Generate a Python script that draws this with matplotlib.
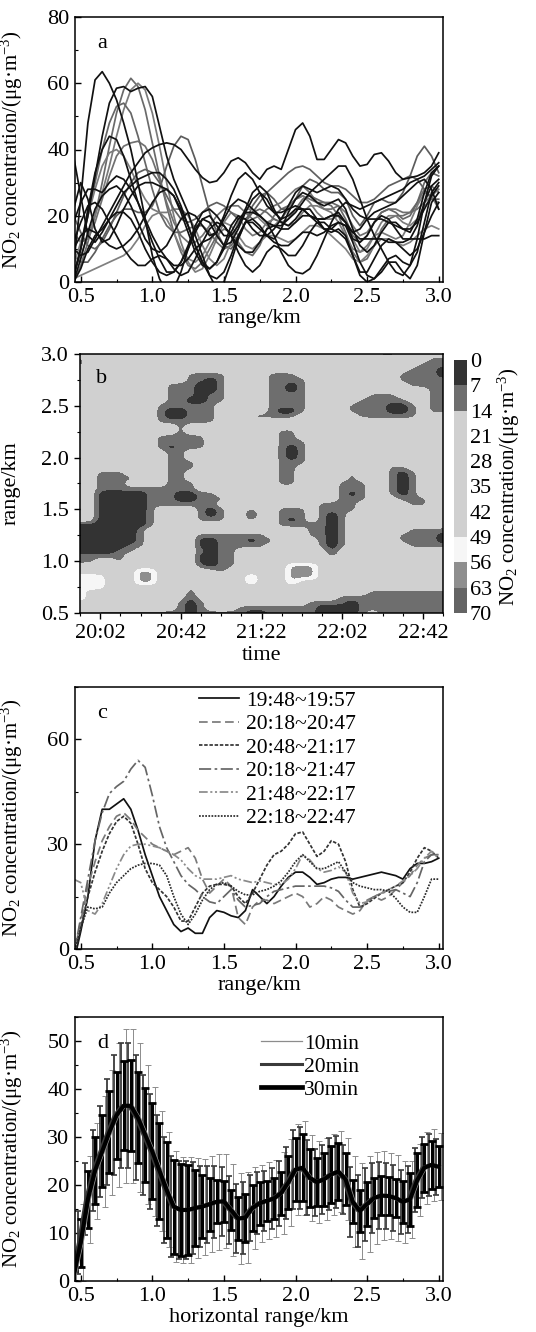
import numpy as np
import matplotlib

matplotlib.use("Agg")
import matplotlib.pyplot as plt
from matplotlib.colors import BoundaryNorm, ListedColormap
from matplotlib.lines import Line2D
from matplotlib.ticker import MultipleLocator
from matplotlib.transforms import offset_copy

plt.rcParams["font.family"] = ["Liberation Serif", "DejaVu Serif"]
plt.rcParams["mathtext.fontset"] = "custom"
plt.rcParams["mathtext.rm"] = "Liberation Serif"
plt.rcParams["mathtext.it"] = "Liberation Serif:italic"
plt.rcParams["mathtext.bf"] = "Liberation Serif:bold"
plt.rcParams["font.size"] = 16
plt.rcParams["axes.linewidth"] = 1.1

NO2_LABEL = "NO$_2$ concentration/(μg·m$^{-3}$)"

# sample positions along the lidar path, km (0.45 ... 3.00)
RANGE_KM = np.round(np.arange(0.45, 3.0001, 0.05), 2)

# ---- panel a: single profiles ----
A_K1 = [5, 25, 48, 61, 63.5, 60, 55, 48, 40, 30, 19, 8, 1, -3, -2, 3, 10, 16, 19, 18,
        14, 11, 12, 16, 21, 25, 27, 25, 21, 19, 20, 22, 22, 20, 19, 19, 20, 21, 18, 13,
        12, 14, 18, 20, 19, 16, 13, 13, 17, 24, 29, 31]
A_K2 = [2, 10, 20, 32, 44, 54, 58.5, 59, 57.5, 58.5, 59, 56, 47, 38, 31, 26, 21, 14, 8, 2,
        -2, 0, 6, 13, 18, 19, 17, 14, 13, 16, 21, 25, 27, 26, 24, 23, 24, 25, 22, 16,
        11, 9, 11, 15, 18, 18, 16, 15, 19, 27, 33, 35]
A_K3 = [10, 8, 9, 13, 17, 21, 25, 29, 33, 36, 39, 40.5, 41.5, 42, 41.5, 40, 37, 34, 31.5, 30,
        30.5, 33, 36.5, 37.5, 36, 33, 31, 34, 35, 34, 40, 46, 48, 44, 37, 37, 40, 43, 42, 38,
        35, 35.5, 38.5, 39, 36.5, 33, 31, 31.5, 32, 33, 35, 39]
A_K4 = [1, 10, 22, 33, 40, 44, 43, 38, 31, 24, 18, 12, 7, 3, 3, 6, 11, 17, 21, 22,
        20, 17, 14, 11, 9, 9, 12, 16, 17, 16, 16, 18, 20, 20, 18, 16, 15, 16, 14, 8,
        2, 0, 1, 4, 7, 8, 6, 5, 9, 18, 27, 30]
A_K5 = [18, 24, 28, 28, 27, 30, 32, 31, 28, 24, 19, 14, 10, 7, 5, 5, 7, 10, 12, 13,
        15, 20, 26, 31, 33, 31, 27, 23, 21, 21, 22, 23, 22, 20, 19, 19, 20, 20, 18, 15,
        13, 13, 13, 13, 12, 12, 12, 13, 13, 13, 14, 14]
A_K6 = [0, 4, 10, 14, 16, 19, 23, 27, 29, 31, 32, 33, 33, 31, 28, 23, 17, 11, 6, 4,
        6, 11, 17, 20, 19, 16, 14, 14, 16, 19, 23, 27, 29, 28, 27, 28, 29, 28, 25, 22,
        20, 19, 19, 19, 18, 17, 16, 16, 18, 22, 26, 29]
A_K7 = [38, 26, 14, 12, 15, 19, 21, 21, 19, 15, 10, 6, 3, 2, 3, 6, 10, 15, 19, 20,
        17, 14, 14, 17, 22, 27, 29, 27, 22, 18, 17, 19, 22, 22, 19, 16, 16, 18, 17, 12,
        6, 2, 1, 3, 6, 6, 3, 1, 5, 15, 24, 27]
A_K8 = [22, 30, 25, 16, 12, 13, 17, 22, 26, 29, 30, 30, 29, 28, 26, 22, 17, 11, 6, 2,
        1, 3, 8, 14, 18, 18, 16, 14, 12, 11, 11, 13, 15, 15, 14, 15, 17, 18, 17, 15,
        16, 19, 21, 22, 23, 24, 26, 28, 30, 31, 28, 22]
A_K9 = [12, 18, 23, 24, 22, 18, 14, 10, 7, 5, 5, 7, 8, 7, 4, 2, 3, 7, 12, 16,
        18, 17, 14, 9, 5, 3, 5, 9, 11, 10, 8, 8, 11, 15, 18, 18, 16, 15, 13, 8,
        3, 3, 7, 11, 13, 12, 10, 8, 10, 15, 20, 24]
A_K10 = [0, 7, 15, 22, 26, 28, 29, 27, 23, 18, 13, 10, 9, 11, 15, 19, 21, 20, 17, 14,
         15, 19, 23, 25, 24, 22, 20, 18, 14, 9, 5, 3, 2.5, 4, 8, 13, 18, 22, 24, 23,
         22, 23, 24, 25, 26, 27, 28, 30, 31, 32, 34, 36]
A_K11 = [10, 14, 16, 15, 13, 11, 10, 11, 13, 16, 20, 24, 27, 28, 26, 21, 15, 9, 5, 4,
         6, 10, 15, 19, 21, 21, 20, 18, 17, 17, 19, 21, 24, 27, 29, 31, 33, 35, 35, 31,
         25, 19, 14, 10, 6, 3, 2, 5, 13, 24, 32, 35]
A_G1 = [0, 5, 12, 20, 30, 41, 51, 58, 61.5, 59, 52, 42, 32, 23, 15, 9, 5, 4, 6, 10,
        14, 16, 15, 12, 9, 8, 11, 16, 20, 22, 23, 25, 26, 25, 24, 24, 23, 20, 15, 9,
        6, 7, 11, 16, 19, 20, 20, 21, 24, 28, 29, 27]
A_G2 = [3, 8, 14, 20, 27, 35, 44, 52, 58, 60, 58, 51, 41, 30, 20, 12, 6, 3, 4, 8,
        13, 18, 21, 20, 16, 14, 15, 18, 19, 18, 17, 18, 21, 23, 23, 22, 21, 18, 14, 10,
        9, 11, 14, 15, 14, 13, 14, 18, 23, 27, 26, 22]
A_G3 = [8, 6, 6, 9, 13, 17, 20, 22, 22, 21, 21, 23, 28, 35, 41, 44, 43, 37, 29, 21,
        15, 11, 10, 13, 18, 23, 26, 27, 25, 22, 22, 25, 29, 31, 30, 28, 27, 27, 25, 20,
        17, 20, 24, 25, 24, 24, 27, 32, 38, 41, 38, 33]
A_G4 = [15, 12, 13, 18, 25, 32, 38, 41, 42, 42.5, 41, 37, 31, 24, 18, 14, 12, 12, 14, 17,
        20, 22, 23, 23, 21, 19, 20, 22, 23, 24, 26, 28, 29, 27, 24, 22, 22, 23, 21, 17,
        14, 15, 18, 21, 22, 22, 21, 21, 22, 24, 26, 28]
A_G5 = [1, 2, 3, 4, 5, 6, 7, 8, 10, 13, 17, 20, 21, 19, 15, 10, 7, 6, 8, 12,
        16, 18, 17, 14, 11, 10, 12, 14, 14, 13, 12, 13, 15, 17, 17, 16, 14, 12, 10, 7,
        6, 8, 11, 13, 13, 12, 11, 12, 14, 16, 17, 16]
A_G6 = [2, 10, 20, 30, 40, 48, 53, 54, 51, 44, 36, 28, 21, 17, 15, 15, 16, 17, 17, 15,
        12, 10, 11, 14, 18, 21, 22, 21, 19, 18, 19, 22, 25, 26, 25, 24, 24, 23, 19, 14,
        12, 14, 18, 21, 22, 21, 19, 20, 24, 30, 33, 32]
A_G7 = [5, 12, 20, 28, 35, 39, 40, 38, 34, 29, 25, 22, 21, 21, 22, 22, 20, 16, 11, 7,
        5, 7, 12, 18, 22, 22, 19, 17, 17, 19, 22, 25, 26, 24, 21, 19, 19, 20, 18, 13,
        9, 10, 14, 18, 20, 20, 18, 17, 19, 23, 25, 24]
A_G8 = [20, 15, 11, 10, 12, 16, 21, 26, 30, 33, 34, 33, 30, 26, 22, 19, 18, 19, 21, 23,
        24, 23, 21, 19, 19, 21, 24, 27, 29, 31, 33, 34.5, 35, 34, 32, 30, 29, 29, 28, 26,
        24, 24, 25, 27, 29, 30, 31, 32, 31, 28, 25, 25]

# ---- panel b: time-range map, one code per cell (5 min x 0.05 km) ----
B_TIME_MIN = np.arange(0, 181, 5)          # minutes after 19:52
B_RANGE_KM = np.linspace(3.0, 0.5, 51)     # row 0 is the top (3.0 km)
B_CLASS_VALUE = {".": 22, "g": 10, "k": 2, "w": 54, "m": 59, "h": 44}
B_GRID = [
    "..............................gg.....",
    "g..................................gg",
    "g.................................ggg",
    ".................................gggk",
    "...........gggg....ggg......g...ggggk",
    "g..........ggkg....gggg.........ggggg",
    ".........gggkkg....ggkg..........gggg",
    ".........gggkkg....ggkg............gg",
    ".........gggkgg....gggg......ggg...gg",
    ".........ggkkgg....gggg.....ggggg..gg",
    "........gggggg.....gggg....ggggkkg.gg",
    "........gkkggg.....gkkg....ggggkkg.gg",
    "........gkkggg...ggggg......gggggg...",
    "........gggggg.......................",
    "..........g..........................",
    "..........g.........gg...............",
    "........ggggg.......gg.........g.....",
    "....g...ggggg.......ggg..............",
    "........gkggg.......gkg..............",
    ".........gg.........gkg..............",
    ".........gg.........gkg..............",
    ".........ggg........ggg..............",
    ".........ggg........gg.........gg....",
    "..ggg....gg.........gg.....g...gkg...",
    "..gggg...gg.........gg.....g...gkg...",
    "..ggg....ggg........gg....ggg..gkg...",
    "..gggggggggg...........g..ggg..gkg...",
    "..kkkkkgggkkgg.........g..gkg..gkg...",
    "..kkkkkgggkkggg...........ggg...ggg..",
    "..kkkkkggggggg..........gggg.....gg..",
    "..kkkkkg....gkg..g..ggg.gggg.........",
    "..kkkkkg....gkg..k..ggg.gkg..........",
    "..kkkkkg....ggg..g..gkg.gkg..........",
    "kkkkkkkg............gggggkg..........",
    "kkkkkkg................ggkg......gggg",
    "kkkkkkg.....ggggggg....ggkg.....ggggk",
    "kkkkkkg.....kkgggkgg....gkg.....ggggk",
    "kkkkkgg.....kkggggg.....gkg......gggg",
    "kkkkgg......gkgg.........k...........",
    "ggggg.......kkgg.........g...........",
    "gg..g.......kkgg....hhhhh............",
    ".....hhhh...gkgg....hmmmh............",
    "hhhh.hmmh.....g.hhh.hmmmh............",
    "wwwh.hmmh.......hmh.hmmmh............",
    "wwwh.hmmh.......hmh.hmhhh...........g",
    "wwwh.hhhh..g....hhh.hhh..............",
    "whhh.......g.................gggggggg",
    "mh.........k..............ggggggggggg",
    "hh........gkg..........ggggkggggggggg",
    "..........gkg...ggggggggkkkkggggggggg",
    "..gggggggggkgggggkkgggggkkkkg.ggggggg",
]
B_LEVELS = [0, 7, 14, 21, 28, 35, 42, 49, 56, 63, 70]
B_TIME_TICKS = [10, 50, 90, 130, 170]
B_TIME_LABELS = ["20:02", "20:42", "21:22", "22:02", "22:42"]

# ---- panel c: half-hour means ----
C_LABELS = ["19:48~19:57", "20:18~20:47", "20:48~21:17",
            "20:18~21:47", "21:48~22:17", "22:18~22:47"]
C_1948 = [-4, 5, 15, 31, 40, 40, 41.5, 43, 40, 34, 27, 21, 15, 11, 7, 5, 6, 4.5, 4.5, 9,
          11, 10.5, 9.5, 9, 11, 17, 15, 13, 15, 18, 20.5, 22, 22, 20.5, 18.5, 19, 20, 20.5, 20.5, 20,
          20.5, 21, 21.5, 22, 21.5, 21, 20, 23, 24.5, 24.5, 25, 26]
C_2018 = [-2, 8, 18, 25, 31, 35, 38, 39, 37, 34, 32, 30, 29, 28, 27, 28, 29, 26, 20, 16,
          18, 20, 18, 9, 7, 12, 14, 14, 13, 14, 15, 16, 15, 12, 13, 15, 14, 12, 11, 10,
          11, 14, 15, 14, 15, 17, 19, 21, 24, 26, 27, 27]
C_2048 = [-3, 6, 15, 22, 28, 33, 36.5, 38, 36, 30, 23, 19, 17, 15, 12, 8, 8, 12, 16, 18,
          18.5, 18.5, 18, 15, 13, 16, 20, 24, 27, 28, 30, 33, 33.5, 30, 26.5, 28, 31, 30, 25, 17,
          12, 13, 14.5, 16, 17, 18, 19, 22, 26, 29, 28, 26]
C_2118 = [-2, 9, 20, 31, 39, 44.5, 46.5, 48, 51.5, 54, 52, 44, 35, 29, 25, 21, 18.5, 17, 15, 13.5,
          13, 15, 17, 14, 12, 12.5, 13, 15, 16.5, 17, 17.5, 18, 18, 18, 18, 18, 17.5, 16.5, 14, 12,
          12, 13.5, 15, 16, 16.5, 17, 16, 15, 19, 25, 27, 27]
C_2148 = [20, 19, 11, 10, 13, 18, 23, 27, 29.5, 30, 30, 29.5, 29, 28, 27, 25.5, 23, 21, 20, 20,
          20, 20.5, 21, 20, 19.5, 19, 19.5, 19, 18.5, 18.5, 20, 23, 27, 25.5, 23, 22, 22.5, 23.5, 22, 16,
          13, 13.5, 15, 16, 17, 18, 19.5, 21, 23, 26, 28, 26]
C_2218 = [-2, 6, 12, 11.5, 12, 16, 19, 21, 23, 24, 24.5, 24.5, 24, 21, 15, 10, 7, 10, 14, 17,
          18.5, 19, 18, 16.5, 15.5, 15.5, 16.5, 17, 18, 19.5, 22, 25, 27, 25, 23, 23, 24, 25, 22, 19,
          18, 17.5, 17, 17, 16.5, 14.5, 12, 10.5, 10.5, 15, 20, 20]

# ---- panel d: mean profile with spread for three averaging windows ----
D_LABELS = ["10min", "20min", "30min"]
D_MEAN = [1, 8, 17, 23, 27, 31, 34.5, 36.5, 36.5, 34, 30.5, 27, 23, 19, 15.5, 14.8, 14.8, 15.2, 15.5, 16,
          16.5, 16.6, 14.8, 13, 13.2, 15.2, 16.2, 16.7, 17.2, 18.3, 20.5, 23.2, 23.6, 21.5, 20.6, 21.2, 22.2, 22.8, 21.2, 16.5,
          14.6, 16, 17.3, 17.8, 17.7, 17.3, 16.5, 17, 21, 23.6, 24.2, 23.8]
D_ERR10 = [2, 8, 9, 10, 11.5, 13, 15, 16, 16, 15.5, 14.5, 13.5, 12.5, 12, 11.5, 11, 11, 10.5, 10, 10,
           10, 9.8, 9.5, 9.5, 9.5, 8.5, 8, 8, 8, 8.5, 9, 9.5, 9.8, 9, 8.5, 8.5, 8.5, 8.5, 8.5, 9.5,
           10, 10, 9.5, 9.3, 9, 9, 8.5, 8, 7.5, 7.5, 7.5, 7]
D_ERR20 = [1.5, 6.5, 7.5, 8.5, 9.5, 11, 12.5, 13, 13, 13, 12.5, 12, 11.5, 11, 10.5, 10.2, 10.2, 9.5, 8.5, 8,
           7.5, 7.2, 7, 7.2, 7.5, 6.8, 6.5, 6.3, 6.3, 6.8, 7.5, 8.2, 8.5, 7.8, 7, 7.2, 7.5, 7.5, 7.2, 7.3,
           7.5, 7.6, 7.2, 7, 6.8, 6.8, 6.7, 6.9, 6.7, 6.4, 6.4, 5.8]
D_ERR30 = [1, 5, 6, 7, 7.5, 8.5, 9, 9.3, 9.5, 9.5, 9.8, 10, 10, 10, 9.8, 9.5, 9.4, 8, 6.5, 5.5,
           4.5, 4.3, 4.2, 4.5, 5, 4.8, 4.5, 4.2, 4.2, 4.5, 5.5, 6.5, 7, 6, 5, 5.5, 6, 6, 5.4, 4.5,
           4.3, 4.6, 4.2, 4, 4, 4, 4.4, 5.5, 5.6, 5, 5, 4.3]


def px_axes(fig, left, top, right, bottom):
    w, h = 536.0, 1332.0
    return fig.add_axes([left / w, 1 - bottom / h, (right - left) / w, (bottom - top) / h])


def style_ticks(ax, direction):
    ax.tick_params(which="both", direction=direction, top=False, right=False, labelsize=16)
    ax.tick_params(which="major", length=4, width=1.0, pad=4)
    ax.tick_params(which="minor", length=2.5, width=0.8)


def range_axis(ax, xlabel="range/km"):
    ax.set_xlim(0.46, 3.03)
    ax.xaxis.set_major_locator(MultipleLocator(0.5))
    ax.xaxis.set_minor_locator(MultipleLocator(0.25))
    ax.xaxis.set_major_formatter(plt.FuncFormatter(lambda v, _: f"{v:.1f}"))
    ax.set_xlabel(xlabel, fontsize=16, labelpad=2)
    ax.set_ylabel(NO2_LABEL, fontsize=15)
    ax.yaxis.set_label_coords(-0.135, 0.5)


def draw_a(ax):
    curves = [A_G1, A_G2, A_G3, A_G4, A_G5, A_G6, A_G7, A_G8,
              A_K1, A_K2, A_K3, A_K4, A_K5, A_K6, A_K7, A_K8, A_K9, A_K10, A_K11]
    colors = ["#6a6a6a", "#7a7a7a", "#5c5c5c", "#707070", "#808080", "#666666",
              "#7c7c7c", "#606060"] + ["#111111"] * 11
    for values, color in zip(curves, colors):
        ax.plot(RANGE_KM, values, color=color, lw=1.25)
    ax.set_ylim(0, 80)
    ax.yaxis.set_major_locator(MultipleLocator(20))
    ax.yaxis.set_minor_locator(MultipleLocator(10))
    style_ticks(ax, "in")
    range_axis(ax)
    ax.text(0.06, 0.9, "a", transform=ax.transAxes, fontsize=16, va="center")


def draw_b(fig, ax, cax):
    assert all(len(row) == len(B_TIME_MIN) for row in B_GRID)
    z = np.array([[B_CLASS_VALUE[ch] for ch in row] for row in B_GRID], dtype=float)
    colors = ["#333333", "#6e6e6e", "#d0d0d0", "#d0d0d0", "#d0d0d0",
              "#d0d0d0", "#d0d0d0", "#f6f6f6", "#8e8e8e", "#646464"]
    cmap = ListedColormap(colors)
    norm = BoundaryNorm(B_LEVELS, cmap.N)
    half_t = (B_TIME_MIN[1] - B_TIME_MIN[0]) / 2
    half_r = (B_RANGE_KM[0] - B_RANGE_KM[1]) / 2
    extent = (B_TIME_MIN[0] - half_t, B_TIME_MIN[-1] + half_t,
              B_RANGE_KM[-1] - half_r, B_RANGE_KM[0] + half_r)
    im = ax.imshow(z, cmap=cmap, norm=norm, extent=extent, aspect="auto",
                   interpolation="bicubic", interpolation_stage="data", origin="upper")
    ax.set_xlim(0, 180)
    ax.set_ylim(0.5, 3.0)
    ax.set_xticks(B_TIME_TICKS, B_TIME_LABELS)
    ax.xaxis.set_minor_locator(MultipleLocator(10))
    ax.yaxis.set_major_locator(MultipleLocator(0.5))
    ax.yaxis.set_minor_locator(MultipleLocator(0.25))
    ax.yaxis.set_major_formatter(plt.FuncFormatter(lambda v, _: f"{v:.1f}"))
    style_ticks(ax, "out")
    ax.set_xlabel("time", fontsize=16, labelpad=2)
    ax.set_ylabel("range/km", fontsize=16)
    ax.yaxis.set_label_coords(-0.165, 0.5)
    ax.text(0.045, 0.905, "b", transform=ax.transAxes, fontsize=16, va="center")

    cbar = fig.colorbar(im, cax=cax, ticks=B_LEVELS, spacing="uniform")
    cax.invert_yaxis()
    cbar.outline.set_visible(False)
    cax.tick_params(length=0, labelsize=16, pad=2)
    cbar.set_label(NO2_LABEL, fontsize=15, labelpad=3)


def draw_c(ax):
    series = [C_1948, C_2018, C_2048, C_2118, C_2148, C_2218]
    styles = [
        ("#111111", "-"),
        ("#7a7a7a", (0, (5, 2.5))),
        ("#333333", (0, (2, 1))),
        ("#666666", (0, (7, 2, 1.5, 2))),
        ("#8a8a8a", (0, (5, 1.5, 1.2, 1.5, 1.2, 1.5))),
        ("#2a2a2a", (0, (1, 0.8))),
    ]
    for values, label, (color, ls) in zip(series, C_LABELS, styles):
        ax.plot(RANGE_KM, values, color=color, ls=ls, lw=1.25, label=label)
    ax.set_ylim(0, 75)
    ax.yaxis.set_major_locator(MultipleLocator(30))
    ax.yaxis.set_minor_locator(MultipleLocator(15))
    style_ticks(ax, "in")
    range_axis(ax)
    ax.legend(loc="upper left", bbox_to_anchor=(0.33, 0.995), frameon=False, fontsize=15.5,
              handlelength=1.9, handletextpad=0.3, labelspacing=0.16, borderpad=0.1,
              borderaxespad=0.0)
    ax.text(0.06, 0.9, "c", transform=ax.transAxes, fontsize=16, va="center")


def draw_d(fig, ax):
    # the three windows share x; nudge two of them a few pixels so the bars interleave
    left = offset_copy(ax.transData, fig=fig, x=-2.4, y=0, units="dots")
    right = offset_copy(ax.transData, fig=fig, x=2.4, y=0, units="dots")
    ax.errorbar(RANGE_KM, D_MEAN, yerr=D_ERR10, color="#8c8c8c", lw=0.9,
                elinewidth=0.7, capsize=2.0, capthick=0.7, transform=right)
    ax.errorbar(RANGE_KM, D_MEAN, yerr=D_ERR20, color="#3a3a3a", lw=2.0,
                elinewidth=1.3, capsize=2.4, capthick=1.2, transform=left)
    ax.errorbar(RANGE_KM, D_MEAN, yerr=D_ERR30, color="#000000", lw=3.0,
                elinewidth=2.2, capsize=3.0, capthick=2.0)
    handles = [Line2D([], [], color="#8c8c8c", lw=0.9),
               Line2D([], [], color="#3a3a3a", lw=2.2),
               Line2D([], [], color="#000000", lw=3.4)]
    ax.legend(handles, D_LABELS, loc="upper left", bbox_to_anchor=(0.5, 0.945),
              frameon=False, fontsize=15.5, handlelength=1.9, handletextpad=0.1,
              labelspacing=0.14, borderpad=0.1, borderaxespad=0.0)
    ax.set_ylim(0, 55)
    ax.yaxis.set_major_locator(MultipleLocator(10))
    ax.yaxis.set_minor_locator(MultipleLocator(5))
    style_ticks(ax, "in")
    range_axis(ax, "horizontal range/km")
    ax.text(0.06, 0.9, "d", transform=ax.transAxes, fontsize=16, va="center")


def main():
    fig = plt.figure(figsize=(5.36, 13.32), dpi=100)
    ax_a = px_axes(fig, 75, 17, 443, 282)
    ax_b = px_axes(fig, 80, 354, 443, 613)
    cax = px_axes(fig, 454, 360, 467, 613)
    ax_c = px_axes(fig, 75, 687, 443, 949)
    ax_d = px_axes(fig, 75, 1017, 443, 1281)

    draw_a(ax_a)
    draw_b(fig, ax_b, cax)
    draw_c(ax_c)
    draw_d(fig, ax_d)

    fig.savefig("out.png", dpi=100)
    plt.close(fig)


if __name__ == "__main__":
    main()
